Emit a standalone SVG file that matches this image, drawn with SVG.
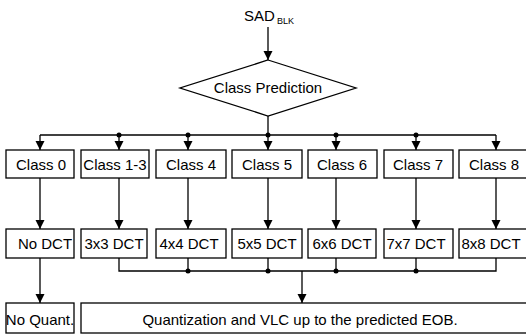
<svg xmlns="http://www.w3.org/2000/svg" width="526" height="334" viewBox="0 0 526 334">
<defs>
<marker id="ah" markerWidth="10" markerHeight="10" refX="9" refY="4.5" orient="auto" markerUnits="userSpaceOnUse">
<path d="M0,0 L9,4.5 L0,9 Z" fill="#000"/>
</marker>
</defs>
<style>
.box{fill:#fff;stroke:#000;stroke-width:1.3}
.t{font-family:"Liberation Sans",Arial,sans-serif;font-size:15px;fill:#000}
.c{text-anchor:middle}
.ln{fill:none;stroke:#000;stroke-width:1.3}
.ar{fill:none;stroke:#000;stroke-width:1.3;marker-end:url(#ah)}
.dot{fill:#000}
</style>
<rect width="526" height="334" fill="#fff"/>
<g id="sad">
<text class="t" x="244" y="21">SAD</text>
<text class="t" x="277" y="24" style="font-size:9px">BLK</text>
</g>
<g id="pred">
<polygon class="box" points="268,60 356,88 268,116 180,88"/>
<text class="t c" x="268" y="93">Class Prediction</text>
</g>
<g id="c0"><rect class="box" x="6" y="150" width="68" height="28"/><text class="t c" x="41" y="170">Class 0</text></g>
<g id="c13"><rect class="box" x="81" y="150" width="68" height="28"/><text class="t c" x="115" y="170">Class 1-3</text></g>
<g id="c4"><rect class="box" x="156" y="150" width="70" height="28"/><text class="t c" x="191" y="170">Class 4</text></g>
<g id="c5"><rect class="box" x="232" y="150" width="70" height="28"/><text class="t c" x="267" y="170">Class 5</text></g>
<g id="c6"><rect class="box" x="308" y="150" width="69" height="28"/><text class="t c" x="342" y="170">Class 6</text></g>
<g id="c7"><rect class="box" x="384" y="150" width="69" height="28"/><text class="t c" x="418" y="170">Class 7</text></g>
<g id="c8"><rect class="box" x="459" y="150" width="72" height="28"/><text class="t c" x="494" y="170">Class 8</text></g>
<g id="d0"><rect class="box" x="6" y="229" width="68" height="29"/><text class="t c" x="45" y="249">No DCT</text></g>
<g id="d3"><rect class="box" x="81" y="229" width="66" height="29"/><text class="t c" x="114" y="249">3x3 DCT</text></g>
<g id="d4"><rect class="box" x="156" y="229" width="70" height="29"/><text class="t c" x="189" y="249">4x4 DCT</text></g>
<g id="d5"><rect class="box" x="232" y="229" width="70" height="29"/><text class="t c" x="267" y="249">5x5 DCT</text></g>
<g id="d6"><rect class="box" x="308" y="229" width="68" height="29"/><text class="t c" x="342" y="249">6x6 DCT</text></g>
<g id="d7"><rect class="box" x="384" y="229" width="69" height="29"/><text class="t c" x="416" y="249">7x7 DCT</text></g>
<g id="d8"><rect class="box" x="459" y="229" width="72" height="29"/><text class="t c" x="491" y="249">8x8 DCT</text></g>
<g id="nq"><rect class="box" x="6" y="303" width="68" height="30"/><text class="t c" x="40" y="325">No Quant.</text></g>
<g id="qv"><rect class="box" x="81" y="303" width="450" height="30"/><text class="t c" x="300" y="325">Quantization and VLC up to the predicted EOB.</text></g>
<g id="connectors">
<line class="ar" x1="268" y1="27" x2="268" y2="60"/>
<line class="ln" x1="268" y1="116" x2="268" y2="135"/>
<line class="ln" x1="40" y1="135" x2="496" y2="135"/>
<line class="ar" x1="40" y1="135" x2="40" y2="150"/>
<line class="ar" x1="119" y1="135" x2="119" y2="150"/>
<line class="ar" x1="188" y1="135" x2="188" y2="150"/>
<line class="ar" x1="268" y1="135" x2="268" y2="150"/>
<line class="ar" x1="336" y1="135" x2="336" y2="150"/>
<line class="ar" x1="416" y1="135" x2="416" y2="150"/>
<line class="ar" x1="496" y1="135" x2="496" y2="150"/>
<circle class="dot" cx="119" cy="135" r="2.5"/>
<circle class="dot" cx="188" cy="135" r="2.5"/>
<circle class="dot" cx="268" cy="135" r="2.5"/>
<circle class="dot" cx="336" cy="135" r="2.5"/>
<circle class="dot" cx="416" cy="135" r="2.5"/>
<line class="ar" x1="40" y1="178" x2="40" y2="229"/>
<line class="ar" x1="119" y1="178" x2="119" y2="229"/>
<line class="ar" x1="188" y1="178" x2="188" y2="229"/>
<line class="ar" x1="268" y1="178" x2="268" y2="229"/>
<line class="ar" x1="336" y1="178" x2="336" y2="229"/>
<line class="ar" x1="416" y1="178" x2="416" y2="229"/>
<line class="ar" x1="496" y1="178" x2="496" y2="229"/>
<polyline class="ln" points="119,258 119,271 496,271 496,258"/>
<line class="ln" x1="188" y1="258" x2="188" y2="271"/>
<line class="ln" x1="268" y1="258" x2="268" y2="271"/>
<line class="ln" x1="336" y1="258" x2="336" y2="271"/>
<line class="ln" x1="416" y1="258" x2="416" y2="271"/>
<circle class="dot" cx="188" cy="271" r="2.5"/>
<circle class="dot" cx="268" cy="271" r="2.5"/>
<circle class="dot" cx="336" cy="271" r="2.5"/>
<circle class="dot" cx="416" cy="271" r="2.5"/>
<line class="ar" x1="302" y1="271" x2="302" y2="303"/>
<line class="ar" x1="40" y1="258" x2="40" y2="303"/>
</g>
</svg>
